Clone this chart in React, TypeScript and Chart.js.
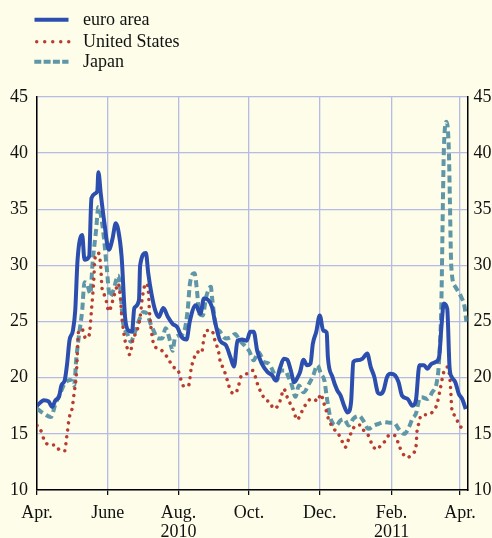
import React, { useEffect, useRef } from "react";
import { Chart, registerables } from "chart.js";
Chart.register(...registerables);

// x positions are days since 1 April 2010
const tickDays = [0, 61, 122, 183, 244, 306, 365];
const tickLabels = [["Apr."], ["June"], ["Aug.", "2010"], ["Oct."], ["Dec."], ["Feb.", "2011"], ["Apr."]];
const yMin = 10;
const yMax = 45;
const yStep = 5;
const xMax = 371.5;

const seriesNames = ["euro area", "United States", "Japan"];

const euroDays = [0, 6, 10, 13, 16, 19, 21, 24, 26, 28, 31, 33, 35, 39, 41, 45, 47, 52, 53, 55, 58, 62, 65, 68, 70, 73, 76, 79, 82, 84, 88, 89, 94, 96, 99, 102, 105, 109, 113, 117, 121, 125, 129, 132, 137, 141, 144, 148, 151, 154, 158, 163, 167, 170, 173, 177, 181, 184, 187, 190, 194, 199, 203, 206, 210, 213, 216, 219, 222, 225, 227, 230, 233, 236, 238, 241, 244, 247, 250, 251, 255, 259, 262, 265, 268, 271, 273, 276, 281, 285, 288, 291, 294, 296, 299, 302, 305, 309, 312, 315, 320, 324, 327, 330, 334, 337, 340, 344, 347, 349, 351, 354, 356, 358, 361, 364, 367, 370];
const euroValues = [17.5, 18.0, 17.9, 17.4, 18.0, 18.3, 19.3, 19.8, 21.25, 23.3, 24.2, 26.0, 30.5, 32.7, 30.5, 30.8, 36.0, 36.6, 38.3, 36.4, 33.9, 31.4, 32.3, 33.75, 33.2, 30.8, 25.4, 24.2, 24.1, 26.2, 26.9, 30.0, 31.1, 29.3, 27.35, 26.0, 25.4, 26.2, 25.4, 24.8, 24.5, 23.6, 23.4, 25.1, 26.45, 25.7, 27.05, 26.9, 26.3, 24.8, 23.3, 22.9, 21.8, 21.0, 23.3, 23.4, 23.3, 24.1, 24.1, 22.4, 21.25, 20.5, 20.2, 19.75, 20.95, 21.7, 21.6, 20.65, 19.6, 20.05, 20.5, 21.6, 21.1, 21.25, 23.0, 24.1, 25.55, 24.2, 24.0, 21.85, 20.05, 18.9, 18.4, 17.5, 16.9, 17.8, 21.4, 21.55, 21.7, 22.15, 20.95, 20.1, 18.7, 18.55, 18.85, 20.05, 20.35, 20.2, 19.6, 18.4, 18.1, 17.5, 18.0, 21.1, 21.1, 20.8, 21.2, 21.4, 21.85, 24.5, 26.6, 26.15, 20.95, 20.05, 19.6, 18.55, 18.1, 17.2];

const usDays = [0, 4, 6, 11, 16, 20, 24, 25, 26, 28, 30, 32, 34, 36, 39, 42, 45, 47, 49, 50, 53, 55, 56, 58, 60, 62, 65, 68, 70, 72, 73, 76, 78, 80, 83, 86, 89, 91, 94, 96, 97, 98, 101, 105, 109, 114, 117, 122, 124, 127, 131, 133, 135, 138, 142, 144, 146, 151, 153, 155, 157, 158, 161, 165, 167, 171, 174, 176, 181, 186, 189, 191, 194, 197, 201, 204, 209, 211, 213, 216, 219, 222, 224, 227, 230, 233, 236, 239, 242, 245, 247, 249, 251, 255, 260, 263, 266, 269, 272, 275, 279, 282, 286, 289, 293, 298, 301, 304, 309, 312, 315, 320, 324, 327, 328, 330, 331, 335, 339, 342, 345, 348, 351, 354, 356, 357, 358, 361, 364, 368];
const usValues = [15.75, 15.15, 14.5, 14.0, 14.0, 13.5, 13.5, 14.2, 15.0, 16.5, 17.1, 18.6, 20.35, 24.2, 24.3, 23.5, 23.8, 26.0, 28.7, 30.6, 31.1, 29.9, 28.1, 27.4, 26.75, 25.9, 26.75, 27.8, 28.4, 27.1, 25.7, 23.3, 22.6, 22.05, 23.5, 24.1, 25.4, 27.2, 28.4, 27.8, 26.0, 24.8, 22.9, 22.6, 22.3, 21.55, 21.0, 20.6, 19.9, 19.2, 19.35, 20.8, 21.55, 22.3, 22.2, 23.5, 24.2, 24.2, 23.5, 22.9, 22.15, 21.5, 20.8, 19.5, 18.8, 18.6, 19.3, 20.1, 20.35, 20.65, 19.9, 19.2, 18.6, 18.0, 17.85, 17.25, 17.7, 18.4, 19.0, 18.25, 17.6, 16.95, 16.25, 16.6, 17.35, 17.7, 18.1, 18.1, 17.9, 18.55, 17.9, 17.3, 16.5, 15.6, 15.0, 14.4, 13.8, 14.55, 15.3, 15.75, 15.8, 15.3, 14.85, 14.1, 13.6, 14.15, 14.4, 14.9, 14.85, 14.1, 13.35, 12.9, 13.25, 13.8, 15.3, 16.05, 16.6, 16.7, 16.75, 17.05, 17.6, 19.0, 20.5, 20.95, 20.2, 18.9, 17.2, 16.6, 15.85, 15.4];

const japanDays = [0, 6, 12, 16, 20, 24, 29, 32, 34, 36, 39, 41, 43, 46, 48, 51, 53, 56, 58, 60, 63, 66, 70, 72, 74, 78, 81, 83, 88, 92, 95, 98, 101, 104, 108, 111, 114, 117, 119, 124, 127, 130, 132, 136, 138, 140, 143, 146, 150, 151, 154, 158, 163, 167, 171, 175, 178, 183, 187, 191, 196, 200, 204, 207, 210, 214, 217, 220, 223, 226, 230, 235, 238, 242, 245, 248, 250, 253, 258, 262, 265, 269, 273, 278, 282, 286, 291, 295, 299, 304, 308, 312, 317, 321, 324, 327, 330, 332, 337, 341, 345, 347, 349, 350.3, 351.1, 353.4, 355.4, 356.3, 357.5, 361, 366, 369, 370.5];
const japanValues = [17.25, 16.8, 16.5, 17.7, 18.6, 19.5, 19.8, 19.3, 21.8, 23.6, 26.0, 28.5, 28.4, 27.5, 30.3, 33.15, 35.2, 33.9, 32.2, 30.0, 27.2, 27.8, 29.1, 27.8, 25.1, 23.9, 23.2, 23.6, 25.1, 25.85, 25.7, 24.8, 24.1, 23.5, 23.5, 24.4, 23.6, 22.4, 23.5, 23.8, 24.1, 26.0, 28.4, 29.3, 27.8, 25.7, 25.55, 27.2, 28.1, 27.2, 24.8, 24.1, 23.5, 23.6, 23.9, 23.3, 23.0, 22.4, 21.55, 22.3, 21.4, 21.25, 20.5, 19.75, 20.65, 20.65, 20.05, 19.3, 18.3, 19.3, 18.7, 19.5, 20.1, 21.1, 20.35, 19.75, 18.3, 16.5, 15.75, 16.2, 16.3, 15.75, 16.35, 16.6, 16.1, 15.45, 15.75, 15.9, 16.05, 16.0, 16.0, 15.45, 15.0, 15.6, 16.35, 16.8, 18.1, 18.25, 18.1, 18.7, 19.6, 21.55, 26.9, 35.8, 40.3, 42.8, 40.3, 35.8, 29.9, 28.1, 27.2, 26.3, 25.0];

const BG = "#fdfde9";
const EURO = "#2c4eae";
const US = "#b93c31";
const JP = "#5f96a8";
const GRID = "#b6bbe6";
const FONT = "'Liberation Serif', 'Times New Roman', serif";

function pts(xs: number[], ys: number[]) {
  return xs.map((x, i) => ({ x, y: ys[i] }));
}

export default function App() {
  const ref = useRef<HTMLCanvasElement | null>(null);

  useEffect(() => {
    document.body.style.margin = "0";
    document.body.style.background = BG;
    const canvas = ref.current;
    if (!canvas) return;
    const chart = new Chart(canvas, {
      type: "line",
      data: {
        datasets: [
          {
            label: seriesNames[0],
            data: pts(euroDays, euroValues),
            borderColor: EURO,
            borderWidth: 4,
            pointRadius: 0,
            cubicInterpolationMode: "monotone",
            borderJoinStyle: "round",
          },
          {
            label: seriesNames[1],
            data: pts(usDays, usValues),
            borderColor: US,
            borderWidth: 3.5,
            borderDash: [0.01, 7],
            borderCapStyle: "round",
            pointRadius: 0,
            cubicInterpolationMode: "monotone",
          },
          {
            label: seriesNames[2],
            data: pts(japanDays, japanValues),
            borderColor: JP,
            borderWidth: 4,
            borderDash: [7, 4],
            pointRadius: 0,
            cubicInterpolationMode: "monotone",
          },
        ],
      },
      options: {
        animation: false,
        responsive: true,
        maintainAspectRatio: false,
        layout: { padding: { top: 97, left: 0, right: 0, bottom: 0 } },
        plugins: { legend: { display: false }, tooltip: { enabled: false } },
        scales: {
          x: {
            type: "linear",
            min: 0,
            max: xMax,
            afterBuildTicks: (s: any) => {
              s.ticks = tickDays.map((v) => ({ value: v }));
            },
            afterFit: (s: any) => {
              s.height = 48;
            },
            ticks: {
              autoSkip: false,
              maxRotation: 0,
              color: "#111",
              padding: 9,
              font: { family: FONT, size: 18, lineHeight: 1.05 },
              callback: (v: any) => {
                const i = tickDays.indexOf(Number(v));
                return i >= 0 ? tickLabels[i] : "";
              },
            },
            grid: { color: GRID, lineWidth: 1.3, tickColor: "#000", tickLength: 5, tickWidth: 1.2 },
            border: { color: "#000", width: 1.5 },
          },
          y: {
            position: "left",
            min: yMin,
            max: yMax,
            afterFit: (s: any) => {
              s.width = 37;
            },
            ticks: { stepSize: yStep, color: "#111", padding: 9, font: { family: FONT, size: 18 } },
            grid: { color: GRID, lineWidth: 1.3, drawTicks: false },
            border: { color: "#000", width: 1.5 },
          },
          y2: {
            position: "right",
            min: yMin,
            max: yMax,
            afterFit: (s: any) => {
              s.width = 24.5;
            },
            ticks: { stepSize: yStep, color: "#111", padding: 6, font: { family: FONT, size: 18 } },
            grid: { drawOnChartArea: false, drawTicks: false },
            border: { color: "#000", width: 1.5 },
          },
        },
      },
    });
    return () => chart.destroy();
  }, []);

  const textStyle: React.CSSProperties = {
    position: "absolute",
    left: 83,
    fontFamily: FONT,
    fontSize: 18,
    lineHeight: "18px",
    color: "#111",
    whiteSpace: "nowrap",
  };

  return (
    <div style={{ position: "relative", width: 492, height: 538, background: BG, overflow: "hidden" }}>
      <canvas ref={ref} style={{ position: "absolute", left: 0, top: 0, width: 492, height: 538 }} />
      <svg width={492} height={80} style={{ position: "absolute", left: 0, top: 0 }}>
        <line x1={34.5} x2={68.5} y1={19.7} y2={19.7} stroke={EURO} strokeWidth={4} />
        <line x1={36.7} x2={69} y1={41.7} y2={41.7} stroke={US} strokeWidth={3.5} strokeDasharray="0.01 8" strokeLinecap="round" />
        <line x1={34.3} x2={68.5} y1={61.7} y2={61.7} stroke={JP} strokeWidth={4} strokeDasharray="7 2.3" />
      </svg>
      <span style={{ ...textStyle, top: 10 }}>{seriesNames[0]}</span>
      <span style={{ ...textStyle, top: 31.5 }}>{seriesNames[1]}</span>
      <span style={{ ...textStyle, top: 52 }}>{seriesNames[2]}</span>
    </div>
  );
}
